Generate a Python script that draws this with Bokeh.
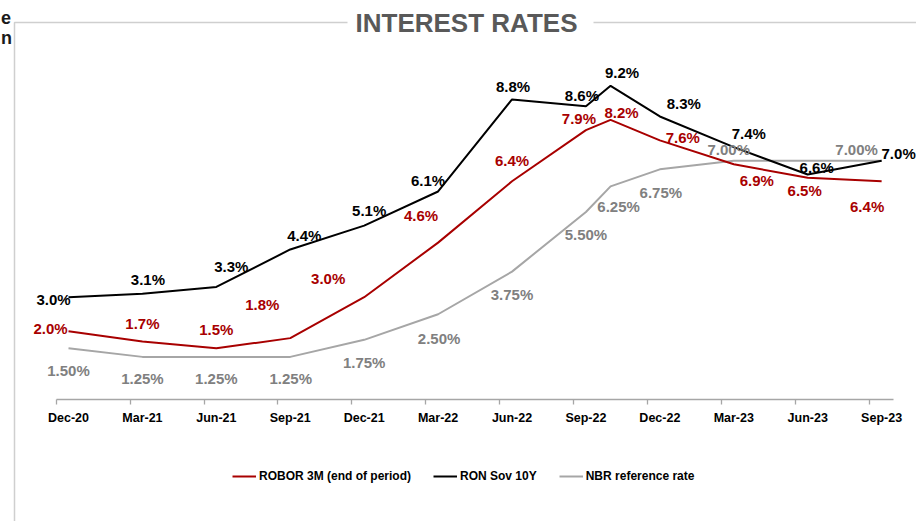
import pandas as pd
from bokeh.plotting import figure
from bokeh.models import (ColumnDataSource, Range1d, LinearAxis, FixedTicker,
                          Legend, LegendItem)
from bokeh.core.properties import value
from bokeh.embed import file_html
from bokeh.resources import INLINE

# ---------------- data ----------------
periods = ["Dec-20", "Mar-21", "Jun-21", "Sep-21", "Dec-21", "Mar-22", "Jun-22",
           "Sep-22", "Oct-22", "Dec-22", "Mar-23", "Jun-23", "Sep-23"]
robor_3m = [2.0, 1.7, 1.5, 1.8, 3.0, 4.6, 6.4, 7.9, 8.2, 7.6, 6.9, 6.5, 6.4]
ron_sov_10y = [3.0, 3.1, 3.3, 4.4, 5.1, 6.1, 8.8, 8.6, 9.2, 8.3, 7.4, 6.6, 7.0]
nbr_rate = [1.50, 1.25, 1.25, 1.25, 1.75, 2.50, 3.75, 5.50, 6.25, 6.75, 7.00, 7.00, 7.00]
nbr_label_shown = [True] * 11 + [False, True]
tick_labels = ["Dec-20", "Mar-21", "Jun-21", "Sep-21", "Dec-21", "Mar-22",
               "Jun-22", "Sep-22", "Dec-22", "Mar-23", "Jun-23", "Sep-23"]
series_names = ["ROBOR 3M (end of period)", "RON Sov 10Y", "NBR reference rate"]
title_text = "INTEREST RATES"
edge_fragments = ["e", "n"]   # cut-off text at the left edge of the slide

# ---------------- styling / layout ----------------
W, H = 916, 521
X0, DXPX = 68.0, 24.64      # screen px of first month, px per month
Y0, DYPX = 399.0, 34.1      # screen px of 0 %, px per percentage point
FONT = "Liberation Sans"
RED, BLACK, GREY_LINE, GREY_TXT = "#A80000", "#000000", "#A6A6A6", "#808080"

# label offsets in screen px (dx, dy)
red_off = [(-18, -3), (0, -18.5), (0, -19), (-28, -34), (-36, -19), (-17, -27.5), (0, -21),
           (-7, -12), (11, -7), (23, -3), (23, 16), (-3, 13), (-14.5, 25)]
black_off = [(-15, 2), (5.5, -14), (15, -20.5), (14, -13.5), (5, -15), (-10, -10.5), (1, -12.5),
             (-4, -11), (11.5, -13), (24, -13), (15, -14), (9, -7), (17, -7)]
grey_off = [(0, 22), (0, 22), (0, 22), (0.5, 22), (0, 23), (1, 24), (0, 23),
            (0, 23), (8, 20), (1, 23), (-5, -11), (0, 0), (-25, -11)]


def xd(px):
    return (px - X0) / DXPX


def yd(py):
    return (Y0 - py) / DYPX


def month_index(labels):
    dt = pd.to_datetime(labels, format="%b-%y")
    base = pd.to_datetime(periods[0], format="%b-%y")
    return [int((d.year - base.year) * 12 + d.month - base.month) for d in dt]


x_idx = month_index(periods)
tick_idx = month_index(tick_labels)

p = figure(width=W, height=H, output_backend="svg", toolbar_location=None,
           x_range=Range1d(xd(0), xd(W)), y_range=Range1d(yd(H), yd(0)),
           x_axis_location=None, y_axis_location=None,
           min_border=0, min_border_left=0, min_border_right=0,
           min_border_top=0, min_border_bottom=0)
p.outline_line_color = None
p.background_fill_color = "white"
p.border_fill_color = "white"
p.grid.visible = False

# frame decoration (box border broken by title)
BORDER = "#CFCFCF"
p.line([xd(14), xd(14), xd(347)], [yd(H), yd(22), yd(22)], line_color=BORDER, line_width=1.5)
p.line([xd(593), xd(W)], [yd(22), yd(22)], line_color=BORDER, line_width=1.5)
p.text(x=[xd(466)], y=[yd(22)], text=[title_text], text_font=value(FONT),
       text_font_style="bold", text_font_size="26px", text_color="#595959",
       text_align="center", text_baseline="middle")
p.text(x=[xd(0.5), xd(0.5)], y=[yd(17), yd(37)], text=edge_fragments, text_font=value(FONT),
       text_font_style="bold", text_font_size="18px", text_color="#1A1A1A",
       text_align="left", text_baseline="middle")

# axis
axis = LinearAxis(fixed_location=0, bounds=(-0.5, tick_idx[-1] + 0.5),
                  ticker=FixedTicker(ticks=tick_idx, minor_ticks=[t - 0.5 for t in tick_idx]))
axis.major_label_overrides = {t: lab for t, lab in zip(tick_idx, tick_labels)}
axis.axis_line_color = "#A6A6A6"
axis.axis_line_width = 1.3
axis.major_tick_out = 0
axis.major_tick_in = 0
axis.minor_tick_out = 5
axis.minor_tick_in = 0
axis.minor_tick_line_color = "#A6A6A6"
axis.minor_tick_line_width = 1.3
axis.major_label_standoff = 6
axis.major_label_text_font = FONT
axis.major_label_text_font_style = "bold"
axis.major_label_text_font_size = "12.5px"
axis.major_label_text_color = "#000000"
p.add_layout(axis, "below")

series = [
    (robor_3m, RED, RED, red_off, "{:.1f}%", [True] * len(periods)),
    (ron_sov_10y, BLACK, BLACK, black_off, "{:.1f}%", [True] * len(periods)),
    (nbr_rate, GREY_LINE, GREY_TXT, grey_off, "{:.2f}%", nbr_label_shown),
]
draw_order = [2, 0, 1]
renderers = {}
for k in draw_order:
    vals, lc, _, _, _, _ = series[k]
    src = ColumnDataSource(dict(x=x_idx, y=vals))
    renderers[k] = p.line("x", "y", source=src, line_color=lc, line_width=2)

for k in draw_order:
    vals, _, tc, off, fmt, shown = series[k]
    lab = [fmt.format(v) if s else "" for v, s in zip(vals, shown)]
    src = ColumnDataSource(dict(x=x_idx, y=vals, t=lab,
                                dx=[o[0] for o in off], dy=[o[1] for o in off]))
    p.text("x", "y", text="t", source=src, x_offset="dx", y_offset="dy",
           text_font=value(FONT), text_font_style="bold", text_font_size="15px",
           text_color=tc, text_align="center", text_baseline="middle")

legend = Legend(items=[LegendItem(label=series_names[k], renderers=[renderers[k]]) for k in range(3)],
                location=(232, 38), orientation="horizontal")
legend.label_text_font = FONT
legend.label_text_font_style = "bold"
legend.label_text_font_size = "12px"
legend.label_text_color = "#000000"
legend.glyph_width = 24
legend.glyph_height = 14
legend.label_height = 14
legend.label_standoff = 3
legend.spacing = 22
legend.padding = 0
legend.margin = 0
legend.border_line_color = None
legend.background_fill_alpha = 0
p.add_layout(legend)

open("out.html", "w").write(file_html(p, INLINE))
